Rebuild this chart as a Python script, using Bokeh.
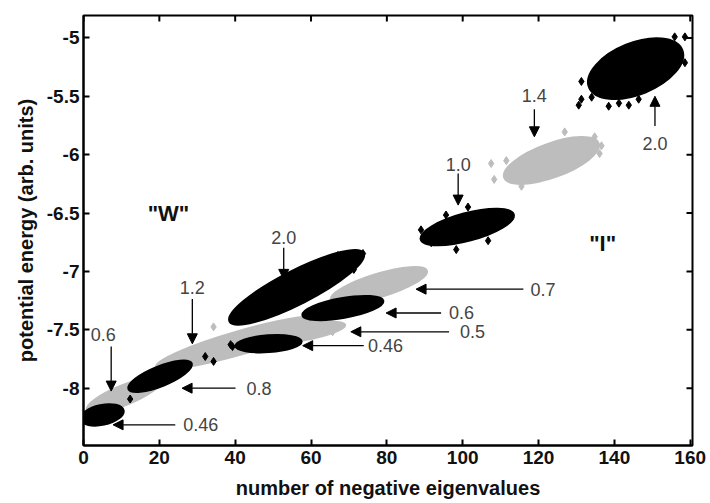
from bokeh.plotting import figure
from bokeh.models import Range1d, FixedTicker, Arrow, NormalHead, ColumnDataSource
from bokeh.embed import file_html
from bokeh.resources import INLINE
from bokeh.core.properties import value
import math

# ---- axes ----
x_ticks = [0, 20, 40, 60, 80, 100, 120, 140, 160]
y_ticks = [-8, -7.5, -7, -6.5, -6, -5.5, -5]
y_tick_labels = ["-8", "-7.5", "-7", "-6.5", "-6", "-5.5", "-5"]
x_lo, x_hi = 0, 160.6
y_lo, y_hi = -8.491, -4.808

# ---- clusters (centre, extent along own axis, thickness, tilt in degrees) ----
grey_x = [10.7, 41.4, 57.3, 77.9, 123.4]
grey_y = [-8.06, -7.61, -7.525, -7.12, -6.05]
grey_w = [21.2, 46.3, 23.8, 26.5, 26.5]
grey_h = [0.17, 0.20, 0.136, 0.20, 0.29]
grey_tilt = [22, 16, 10, 17, 20]

black_x = [4.9, 20.2, 56.2, 68.4, 48.8, 101.2, 145.6]
black_y = [-8.229, -7.898, -7.136, -7.314, -7.619, -6.619, -5.263]
black_w = [11.6, 18.0, 39.7, 21.7, 17.5, 25.4, 26.5]
black_h = [0.17, 0.17, 0.288, 0.17, 0.144, 0.237, 0.441]
black_tilt = [12, 22, 27, 10, 4, 15, 22]

# stray points around the clouds
black_out_x = [130.6, 131.3, 134.0, 136.1, 138.5, 141.2, 143.8, 146.4, 131.3, 158.6, 155.9, 158.6,
               89.0, 101.4, 95.6, 112.8, 98.3, 106.7, 91.7,
               73.7, 67.1, 71.0, 71.3, 68.7, 39.5, 43.3, 38.8, 34.3, 32.1, 39.3, 12.3]
black_out_y = [-5.576, -5.525, -5.508, -5.474, -5.585, -5.559, -5.576, -5.525, -5.373, -4.991, -4.991, -5.212,
               -6.644, -6.449, -6.517, -6.542, -6.813, -6.737, -6.754,
               -6.847, -6.864, -6.907, -6.983, -6.992, -7.407, -7.280, -7.627, -7.771, -7.729, -7.644, -8.093]
grey_out_x = [107.5, 108.3, 111.5, 126.9, 134.8, 136.6, 136.1, 115.5, 34.3, 66.5, 65.7]
grey_out_y = [-6.076, -6.212, -6.051, -5.805, -5.847, -5.924, -5.991, -6.271, -7.475, -7.475, -7.517]

# ---- annotations ----
vert_labels = ["2.0", "1.4", "1.0", "2.0", "1.2", "0.6"]
vert_x = [150.7, 118.9, 98.8, 52.8, 28.7, 7.3]
vert_tail_y = [-5.754, -5.61, -6.161, -6.797, -7.237, -7.644]
vert_tip_y = [-5.50, -5.847, -6.432, -7.068, -7.62, -8.025]
vert_label_x = [150.7, 118.9, 98.8, 52.8, 28.7, 5.2]
vert_label_y = [-5.907, -5.49, -6.085, -6.712, -7.136, -7.542]

hor_labels = ["0.46", "0.8", "0.46", "0.5", "0.6", "0.7"]
hor_y = [-8.314, -8.0, -7.636, -7.517, -7.356, -7.152]
hor_tail_x = [24.2, 40.1, 73.9, 96.4, 94.3, 116.0]
hor_tip_x = [7.8, 26.0, 57.8, 70.5, 79.8, 87.7]
hor_label_x = [26.3, 43.0, 75.0, 99.3, 96.4, 117.9]

region_labels = ['"W"', '"I"']
region_x = [22.4, 136.9]
region_y = [-6.508, -6.763]

FONT = "Liberation Sans"
GREY = "#bdbdbd"

p = figure(width=706, height=501, output_backend="svg", toolbar_location=None,
           x_range=Range1d(x_lo, x_hi), y_range=Range1d(y_lo, y_hi),
           min_border_left=83, min_border_right=14, min_border_top=15, min_border_bottom=10)
p.xgrid.visible = False
p.ygrid.visible = False
p.outline_line_color = "black"
p.outline_line_width = 2
p.background_fill_color = "white"
p.border_fill_color = "white"

p.xaxis.ticker = FixedTicker(ticks=x_ticks)
p.yaxis.ticker = FixedTicker(ticks=y_ticks)
p.yaxis.major_label_overrides = {t: l for t, l in zip(y_ticks, y_tick_labels)}
for ax in (p.xaxis[0], p.yaxis[0]):
    ax.major_tick_in = 6
    ax.major_tick_out = 0
    ax.minor_tick_line_color = None
    ax.major_tick_line_width = 2
    ax.axis_line_width = 2
    ax.major_label_text_font = FONT
    ax.major_label_text_font_style = "bold"
    ax.major_label_text_font_size = "19px"
    ax.major_label_text_color = "#111111"
    ax.axis_label_text_font = FONT
    ax.axis_label_text_font_style = "bold"
    ax.axis_label_text_font_size = "20px"
    ax.axis_label_text_color = "#111111"
p.xaxis.axis_label = "number of negative eigenvalues"
p.yaxis.axis_label = "potential energy (arb. units)"
p.xaxis.major_label_standoff = 5
p.xaxis.axis_label_standoff = 10
p.yaxis.major_label_standoff = 4
p.yaxis.axis_label_standoff = 7

# inward ticks on the top and right edges of the frame
p.ray(x=x_ticks, y=[y_hi] * len(x_ticks), length=6, length_units="screen",
      angle=-math.pi / 2, line_color="black", line_width=2)
p.ray(x=[x_hi] * len(y_ticks), y=y_ticks, length=6, length_units="screen",
      angle=math.pi, line_color="black", line_width=2)

# clouds
p.ellipse(x=grey_x, y=grey_y, width=grey_w, height=grey_h,
          angle=[math.radians(a) for a in grey_tilt],
          fill_color=GREY, line_color=GREY, line_width=2)
p.scatter(x=grey_out_x, y=grey_out_y, marker="diamond", size=8, fill_color=GREY, line_color=GREY)
p.ellipse(x=black_x, y=black_y, width=black_w, height=black_h,
          angle=[math.radians(a) for a in black_tilt],
          fill_color="black", line_color="black", line_width=2)
p.scatter(x=black_out_x, y=black_out_y, marker="diamond", size=8, fill_color="black", line_color="black")

# arrows
vsrc = ColumnDataSource(dict(x0=vert_x, y0=vert_tail_y, x1=vert_x, y1=vert_tip_y))
hsrc = ColumnDataSource(dict(x0=hor_tail_x, y0=hor_y, x1=hor_tip_x, y1=hor_y))
for src in (vsrc, hsrc):
    p.add_layout(Arrow(source=src, x_start="x0", y_start="y0", x_end="x1", y_end="y1",
                       line_color="black", line_width=1.3,
                       end=NormalHead(size=10, fill_color="black", line_color="black")))

p.text(x=vert_label_x, y=vert_label_y, text=vert_labels, text_align="center", text_baseline="middle",
       text_font=value(FONT), text_font_size="18px", text_color="#444444")
p.text(x=hor_label_x, y=hor_y, text=hor_labels, text_align="left", text_baseline="middle",
       text_font=value(FONT), text_font_size="18px", text_color="#444444")
p.text(x=region_x, y=region_y, text=region_labels, text_align="center", text_baseline="middle",
       text_font=value(FONT), text_font_style="bold", text_font_size="22px", text_color="#111111")

open("out.html", "w").write(file_html(p, INLINE))
